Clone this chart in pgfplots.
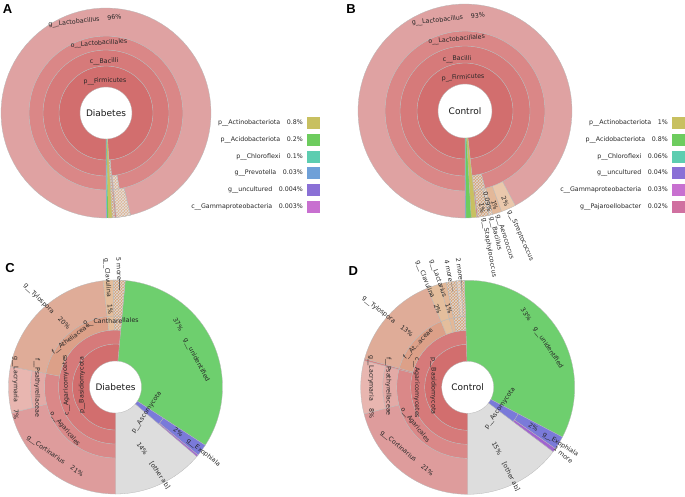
\documentclass[border=0pt]{standalone}
\usepackage{fontspec}
\setmainfont{DejaVu Sans}
\newfontfamily\letterfont{Liberation Sans}
\usepackage{pgfplots}
\pgfplotsset{compat=1.18}
\usetikzlibrary{patterns,calc}

\definecolor{f1}{HTML}{D26E6E}
\definecolor{f2}{HTML}{D67A7A}
\definecolor{f3}{HTML}{DA8787}
\definecolor{f4}{HTML}{DFA2A2}
\definecolor{pinkx}{HTML}{D88282}
\definecolor{tanH}{HTML}{D9A070}
\definecolor{tanHL}{HTML}{E0B490}
\definecolor{tanM}{HTML}{E3B899}
\definecolor{tanL}{HTML}{EAC8AC}
\definecolor{actc}{HTML}{C8C060}
\definecolor{acic}{HTML}{6DCC5E}
\definecolor{chlc}{HTML}{5DCDB0}
\definecolor{prec}{HTML}{6FA0D8}
\definecolor{uncc}{HTML}{8A70D6}
\definecolor{gamc}{HTML}{C870D0}
\definecolor{pajc}{HTML}{D070A0}
\definecolor{agar}{HTML}{DA8888}
\definecolor{corti}{HTML}{DE9C9C}
\definecolor{psat}{HTML}{E3AAA6}
\definecolor{lacr}{HTML}{E8B6B0}
\definecolor{athe}{HTML}{DCA088}
\definecolor{tylo}{HTML}{DFAC98}
\definecolor{clav}{HTML}{E4BE9C}
\definecolor{lact}{HTML}{E2B898}
\definecolor{unid}{HTML}{6ECF6E}
\definecolor{exoph}{HTML}{7A7AD9}
\definecolor{morep}{HTML}{A064D0}
\definecolor{other}{HTML}{DDDDDD}

\tikzset{
  hatch/.style={fill=tanH, postaction={pattern=crosshatch, pattern color=black!15}},
  hatchL/.style={fill=tanHL, postaction={pattern=crosshatch, pattern color=black!12}},
  lbl/.style={font=\fontsize{6.3}{7}\selectfont, inner sep=0pt, text=black!85},
  ctr/.style={font=\fontsize{9}{10}\selectfont, inner sep=0pt, text=black!90},
  plet/.style={font=\letterfont\bfseries\fontsize{13}{14}\selectfont, inner sep=0pt},
}

% annular sector: cx cy r0 r1 a b k style
\newcommand{\sect}[8]{%
 \pgfmathsetmacro{\thr}{1+0.5/#7}%
 \pgfmathsetmacro{\ist}{1+1/#7}%
 \pgfmathsetmacro{\ilen}{1-1/#7}%
 \pgfmathtruncatemacro{\ns}{2*#7+1}%
 \edef\temp{\noexpand\addplot[draw=black!28, line width=0.3pt, \unexpanded{#8}, domain=0:2, samples=\ns]
  ({#1+((x<\thr)?(#4):(#3))*cos((x<\thr)?((#5)+x*((#6)-(#5))):((#6)-(x-\ist)/\ilen*((#6)-(#5))))},
   {#2-((x<\thr)?(#4):(#3))*sin((x<\thr)?((#5)+x*((#6)-(#5))):((#6)-(x-\ist)/\ilen*((#6)-(#5))))}) -- cycle;}%
 \temp}
\newcommand{\SA}[6]{\sect{106}{113}{#1}{#2}{#3}{#4}{#5}{#6}}
\newcommand{\SB}[6]{\sect{465}{111}{#1}{#2}{#3}{#4}{#5}{#6}}
\newcommand{\SC}[6]{\sect{115.5}{387}{#1}{#2}{#3}{#4}{#5}{#6}}
\newcommand{\SD}[6]{\sect{467.7}{387.3}{#1}{#2}{#3}{#4}{#5}{#6}}

\begin{document}
\begin{tikzpicture}
\begin{axis}[width=685pt, height=496pt, scale only axis,
  xmin=0, xmax=685, ymin=0, ymax=496, y dir=reverse,
  hide axis, clip=false]

%%%%%%%% Panel A
\SA{26}{47}{-86.6}{270}{90}{fill=f1}
\SA{47}{63}{-85}{270}{90}{fill=f2}
\SA{47}{63}{-86.6}{-85}{2}{hatch}
\SA{63}{77}{-80}{270}{90}{fill=f3}
\SA{63}{77}{-86.6}{-85}{2}{hatch}
\SA{63}{77}{-85}{-84.3}{2}{fill=pinkx}
\SA{63}{77}{-84.3}{-80}{2}{hatchL}
\SA{77}{105}{-76.5}{270}{90}{fill=f4}
\SA{77}{105}{-86.6}{-85}{2}{hatch}
\SA{77}{105}{-85}{-84.3}{2}{fill=pinkx}
\SA{77}{105}{-84.3}{-76.5}{3}{hatchL}
\SA{26}{105}{-88.8}{-86.6}{2}{fill=actc}
\SA{26}{105}{-89.45}{-88.8}{2}{fill=acic, draw=none}
\SA{26}{105}{-89.7}{-89.45}{2}{fill=chlc, draw=none}
\SA{26}{105}{-89.85}{-89.7}{2}{fill=prec, draw=none}
\SA{26}{105}{-90}{-89.85}{2}{fill=uncc, draw=none}

%%%%%%%% Panel B
\SB{27}{48}{-83.8}{270}{90}{fill=f1}
\SB{48}{65}{-83.8}{270}{90}{fill=f2}
\SB{65}{80}{-75.5}{270}{90}{fill=f3}
\SB{65}{80}{-83.8}{-75.5}{3}{hatch}
\SB{80}{107}{-62}{270}{90}{fill=f4}
\SB{80}{107}{-83.8}{-83}{2}{fill=pinkx}
\SB{80}{107}{-83}{-77}{3}{hatch}
\SB{80}{107}{-77}{-75}{2}{hatchL}
\SB{80}{107}{-75}{-70}{3}{fill=tanM}
\SB{80}{107}{-70}{-62}{3}{fill=tanL}
\SB{27}{107}{-86.7}{-83.8}{2}{fill=actc}
\SB{27}{107}{-89.5}{-86.7}{2}{fill=acic}
\SB{27}{107}{-89.8}{-89.5}{2}{fill=chlc, draw=none}
\SB{27}{107}{-90}{-89.8}{2}{fill=uncc, draw=none}

%%%%%%%% Panel C
\SC{26}{107}{-33}{84.8}{60}{fill=unid}
\SC{26}{107}{-90}{-40.5}{25}{fill=other}
\SC{26}{43}{84.8}{270}{90}{fill=f1}
\SC{43}{57}{84.8}{270}{90}{fill=f2}
\SC{57}{71}{169}{270}{50}{fill=agar}
\SC{57}{71}{96.7}{169}{40}{fill=athe}
\SC{57}{71}{91.2}{96.7}{3}{fill=clav}
\SC{57}{71}{84.8}{91.2}{3}{hatch}
\SC{71}{107}{194}{270}{40}{fill=corti}
\SC{71}{85}{169}{194}{15}{fill=psat}
\SC{85}{107}{169}{194}{15}{fill=lacr}
\SC{71}{107}{96.7}{169}{40}{fill=tylo}
\SC{71}{107}{91.2}{96.7}{3}{fill=clav}
\SC{71}{107}{84.8}{91.2}{3}{hatch}
\SC{26}{57}{-40.5}{-33}{4}{fill=exoph}
\SC{57}{107}{-39.5}{-33}{4}{fill=exoph}
\SC{57}{107}{-40.5}{-39.5}{2}{fill=morep}

%%%%%%%% Panel D
\SD{26}{107}{-27.7}{91.8}{60}{fill=unid}
\SD{26}{107}{-90}{-37}{25}{fill=other}
\SD{26}{43}{91.8}{270}{90}{fill=f1}
\SD{43}{57}{91.8}{270}{90}{fill=f2}
\SD{57}{71}{165.5}{270}{50}{fill=agar}
\SD{57}{71}{164.5}{165.5}{2}{fill=pinkx}
\SD{57}{71}{112}{164.5}{25}{fill=athe}
\SD{57}{71}{105}{112}{3}{fill=clav}
\SD{57}{71}{101.5}{105}{3}{fill=lact}
\SD{57}{71}{91.8}{101.5}{4}{hatch}
\SD{71}{107}{194.4}{270}{40}{fill=corti}
\SD{71}{85}{165.5}{194.4}{15}{fill=psat}
\SD{85}{107}{165.5}{194.4}{15}{fill=lacr}
\SD{71}{107}{164.5}{165.5}{2}{fill=pinkx}
\SD{71}{107}{112}{164.5}{25}{fill=tylo}
\SD{71}{107}{105}{112}{3}{fill=clav}
\SD{71}{107}{101.5}{105}{3}{fill=lact}
\SD{71}{107}{96}{101.5}{3}{hatch}
\SD{71}{107}{93.7}{96}{2}{hatchL}
\SD{71}{107}{91.8}{93.7}{2}{hatch}
\SD{26}{57}{-37}{-27.7}{4}{fill=exoph}
\SD{57}{107}{-35}{-27.7}{4}{fill=exoph}
\SD{57}{107}{-37}{-35}{2}{fill=morep}

%%%%%%%% leader lines
\addplot[black!60, line width=0.3pt] coordinates {(119.5,279) (119.5,290)};
\addplot[black!60, line width=0.3pt] coordinates {(451.5,283) (453,292)};
\addplot[black!60, line width=0.3pt] coordinates {(461.5,279) (462,292)};

%%%%%%%% legend squares A
\addplot[fill=actc, draw=none] coordinates {(307.3,117.3) (320,117.3) (320,129.3) (307.3,129.3)} -- cycle;
\addplot[fill=acic, draw=none] coordinates {(307.3,134) (320,134) (320,146) (307.3,146)} -- cycle;
\addplot[fill=chlc, draw=none] coordinates {(307.3,150.7) (320,150.7) (320,162.7) (307.3,162.7)} -- cycle;
\addplot[fill=prec, draw=none] coordinates {(307.3,167.3) (320,167.3) (320,179.3) (307.3,179.3)} -- cycle;
\addplot[fill=uncc, draw=none] coordinates {(307.3,184) (320,184) (320,196) (307.3,196)} -- cycle;
\addplot[fill=gamc, draw=none] coordinates {(307.3,200.7) (320,200.7) (320,212.7) (307.3,212.7)} -- cycle;
%%%%%%%% legend squares B
\addplot[fill=actc, draw=none] coordinates {(672.3,117.3) (685,117.3) (685,129.3) (672.3,129.3)} -- cycle;
\addplot[fill=acic, draw=none] coordinates {(672.3,134) (685,134) (685,146) (672.3,146)} -- cycle;
\addplot[fill=chlc, draw=none] coordinates {(672.3,150.7) (685,150.7) (685,162.7) (672.3,162.7)} -- cycle;
\addplot[fill=uncc, draw=none] coordinates {(672.3,167.3) (685,167.3) (685,179.3) (672.3,179.3)} -- cycle;
\addplot[fill=gamc, draw=none] coordinates {(672.3,184) (685,184) (685,196) (672.3,196)} -- cycle;
\addplot[fill=pajc, draw=none] coordinates {(672.3,200.7) (685,200.7) (685,212.7) (672.3,212.7)} -- cycle;

%%%%%%%% panel letters
\node[plet] at (axis cs:7.5,9.5) {A};
\node[plet] at (axis cs:351,9.5) {B};
\node[plet] at (axis cs:10,268) {C};
\node[plet] at (axis cs:353.3,271) {D};

%%%%%%%% A labels
\node[lbl, rotate=6] at (axis cs:85,21) {g\_\_Lactobacillus\hspace{8pt}96\%};
\node[lbl, rotate=4] at (axis cs:99,43.5) {o\_\_Lactobacillales};
\node[lbl, rotate=2] at (axis cs:104,61.5) {c\_\_Bacilli};
\node[lbl, rotate=2] at (axis cs:105,81) {p\_\_Firmicutes};
\node[ctr] at (axis cs:106,113) {Diabetes};
\node[lbl, anchor=east] at (axis cs:303,123.3) {p\_\_Actinobacteriota\hspace{6.5pt}0.8\%};
\node[lbl, anchor=east] at (axis cs:303,140) {p\_\_Acidobacteriota\hspace{6.5pt}0.2\%};
\node[lbl, anchor=east] at (axis cs:303,156.7) {p\_\_Chloroflexi\hspace{6.5pt}0.1\%};
\node[lbl, anchor=east] at (axis cs:303,173.3) {g\_\_Prevotella\hspace{6.5pt}0.03\%};
\node[lbl, anchor=east] at (axis cs:303,190) {g\_\_uncultured\hspace{6.5pt}0.004\%};
\node[lbl, anchor=east] at (axis cs:303,206.7) {c\_\_Gammaproteobacteria\hspace{6.5pt}0.003\%};

%%%%%%%% B labels
\node[lbl, rotate=6] at (axis cs:448.5,19.5) {g\_\_Lactobacillus\hspace{8pt}93\%};
\node[lbl, rotate=5] at (axis cs:456.7,39.5) {o\_\_Lactobacillales};
\node[lbl, rotate=3] at (axis cs:457,59) {c\_\_Bacilli};
\node[lbl, rotate=3] at (axis cs:463,77.5) {p\_\_Firmicutes};
\node[ctr] at (axis cs:465,111) {Control};
\node[lbl, anchor=east] at (axis cs:668,123.3) {p\_\_Actinobacteriota\hspace{6.5pt}1\%};
\node[lbl, anchor=east] at (axis cs:668,140) {p\_\_Acidobacteriota\hspace{6.5pt}0.8\%};
\node[lbl, anchor=east] at (axis cs:668,156.7) {p\_\_Chloroflexi\hspace{6.5pt}0.06\%};
\node[lbl, anchor=east] at (axis cs:668,173.3) {g\_\_uncultured\hspace{6.5pt}0.04\%};
\node[lbl, anchor=east] at (axis cs:668,190) {c\_\_Gammaproteobacteria\hspace{6.5pt}0.03\%};
\node[lbl, anchor=east] at (axis cs:668,206.7) {g\_\_Pajaroellobacter\hspace{6.5pt}0.02\%};
\node[lbl, rotate=-80, anchor=east] at ($(axis cs:465,111)+(-80:104pt)$) {1\%};
\node[lbl, rotate=-76, anchor=east] at ($(axis cs:465,111)+(-76:104pt)$) {0.09\%};
\node[lbl, rotate=-72.5, anchor=east] at ($(axis cs:465,111)+(-72.5:104pt)$) {1\%};
\node[lbl, rotate=-66, anchor=east] at ($(axis cs:465,111)+(-66:104pt)$) {2\%};
\node[lbl, rotate=-80, anchor=west] at ($(axis cs:465,111)+(-80:109pt)$) {g\_\_Staphylococcus};
\node[lbl, rotate=-76, anchor=west] at ($(axis cs:465,111)+(-76:109pt)$) {g\_\_Bacillus};
\node[lbl, rotate=-72.5, anchor=west] at ($(axis cs:465,111)+(-72.5:109pt)$) {g\_\_Aerococcus};
\node[lbl, rotate=-66, anchor=west] at ($(axis cs:465,111)+(-66:109pt)$) {g\_\_Streptococcus};

%%%%%%%% C labels
\node[ctr] at (axis cs:115.5,387) {Diabetes};
\node[lbl, rotate=90] at (axis cs:82,385) {p\_\_Basidiomycota};
\node[lbl, rotate=92] at (axis cs:66,385) {c\_\_Agaricomycetes};
\node[lbl, rotate=-50] at (axis cs:65,429) {o\_\_Agaricales};
\node[lbl, rotate=-90] at (axis cs:37,388) {f\_\_Psathyrellaceae};
\node[lbl, rotate=-90] at (axis cs:15.5,388) {g\_\_Lacrymaria\hspace{7pt}7\%};
\node[lbl, rotate=-35] at (axis cs:55,456.5) {g\_\_Cortinarius\hspace{8pt}21\%};
\node[lbl, rotate=-45] at (axis cs:46.7,306.7) {g\_\_Tylospora\hspace{8pt}20\%};
\node[lbl, rotate=37] at (axis cs:71,339) {f\_\_Atheliaceae};
\node[lbl, rotate=2] at (axis cs:111,321.7) {o\_\_Cantharellales};
\node[lbl, rotate=-86] at (axis cs:108,286) {g\_\_Clavulina\hspace{7pt}1\%};
\node[lbl, rotate=-88] at (axis cs:119,269) {5 more};
\node[lbl, rotate=-62] at (axis cs:191,350) {37\%\hspace{9pt}g\_\_unidentified};
\node[lbl, rotate=56] at (axis cs:146.7,412.5) {p\_\_Ascomycota};
\node[lbl, rotate=-38] at (axis cs:196.7,447.5) {2\%\hspace{7pt}g\_\_Exophiala};
\node[lbl, rotate=-56] at (axis cs:153.3,465.8) {14\%\hspace{9pt}[other ab]};

%%%%%%%% D labels
\node[ctr] at (axis cs:467.7,387.3) {Control};
\node[lbl, rotate=-90] at (axis cs:433.3,386) {p\_\_Basidiomycota};
\node[lbl, rotate=-90] at (axis cs:416.7,388) {c\_\_Agaricomycetes};
\node[lbl, rotate=-52] at (axis cs:415,425) {o\_\_Agaricales};
\node[lbl, rotate=-90] at (axis cs:388.3,386.7) {f\_\_Psathyrellaceae};
\node[lbl, rotate=-90] at (axis cs:371,386.7) {g\_\_Lacrymaria\hspace{7pt}8\%};
\node[lbl, rotate=-40] at (axis cs:406.7,453.3) {g\_\_Cortinarius\hspace{8pt}21\%};
\node[lbl, rotate=-38] at (axis cs:387.5,316.7) {g\_\_Tylospora\hspace{8pt}13\%};
\node[lbl, rotate=47] at (axis cs:418.3,344) {f\_\_At...aceae};
\node[lbl, rotate=-68] at (axis cs:428.3,287.5) {g\_\_Clavulina\hspace{7pt}2\%};
\node[lbl, rotate=-71] at (axis cs:440.8,286.7) {g\_\_Lactarius\hspace{7pt}1\%};
\node[lbl, rotate=-79] at (axis cs:448.8,270.8) {4 more};
\node[lbl, rotate=-82] at (axis cs:459.7,269.2) {2 more};
\node[lbl, rotate=-56] at (axis cs:541.7,338.3) {33\%\hspace{9pt}g\_\_unidentified};
\node[lbl, rotate=55] at (axis cs:500,408.3) {p\_\_Ascomycota};
\node[lbl, rotate=-32] at (axis cs:553.3,440) {2\%\hspace{7pt}g\_\_Exophiala};
\node[lbl, rotate=-38] at (axis cs:563.3,455) {1 more};
\node[lbl, rotate=-63] at (axis cs:505.8,466.7) {15\%\hspace{9pt}[other ab]};
\end{axis}
\pgfresetboundingbox
\useasboundingbox (current axis.south west) rectangle (current axis.north east);
\end{tikzpicture}
\end{document}
